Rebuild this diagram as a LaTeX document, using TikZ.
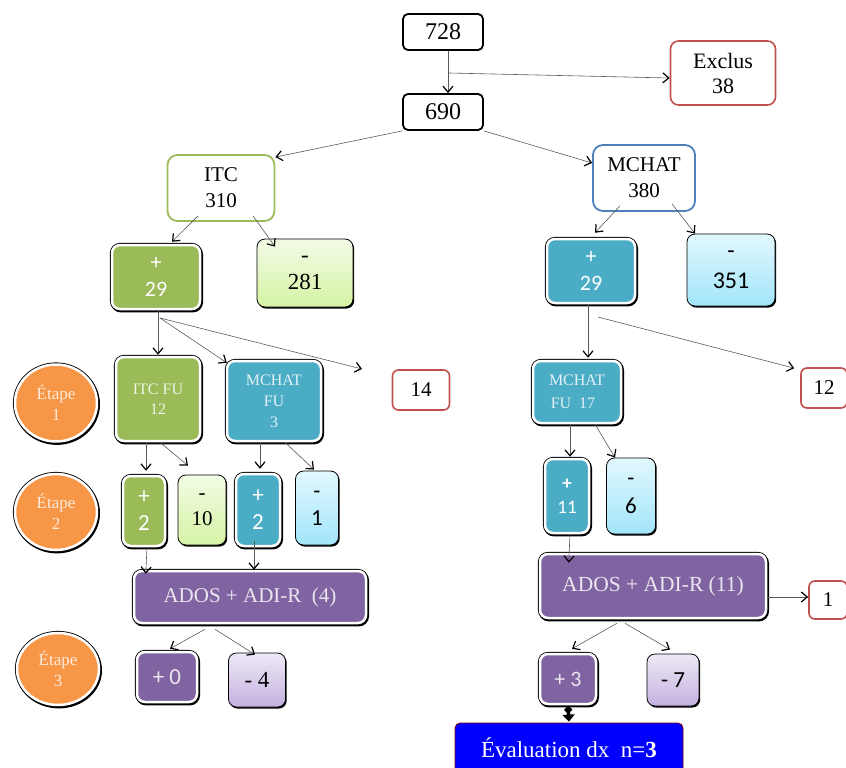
\documentclass[tikz,border=0pt]{standalone}
\usepackage{fontspec}
\setmainfont{Liberation Serif}
\newfontfamily\calib{Carlito}
\usetikzlibrary{arrows.meta,shadows,shapes.geometric,calc}
\definecolor{cgreen}{HTML}{9BBB59}
\definecolor{cteal}{HTML}{4BACC6}
\definecolor{cpurple}{HTML}{8064A2}
\definecolor{corange}{HTML}{F79646}
\definecolor{cred}{HTML}{C0504D}
\definecolor{cblueb}{HTML}{4F81BD}
\definecolor{lgtop}{HTML}{F3FCE6}
\definecolor{lgbot}{HTML}{D5F3A4}
\definecolor{lctop}{HTML}{E2F8FE}
\definecolor{lcbot}{HTML}{A2E5FA}
\definecolor{lptop}{HTML}{EEE8F7}
\definecolor{lpbot}{HTML}{C4B2DF}
\definecolor{tgreen}{HTML}{EEF5E2}
\definecolor{tteal}{HTML}{E2F2F6}
\definecolor{tpurple}{HTML}{EAE6F0}
\definecolor{torange}{HTML}{FDEBDD}
\newcommand{\fsz}[2]{\fontsize{#1}{#2}\selectfont}
\tikzset{
  plainbox/.style={rounded corners=5pt, inner sep=0pt, align=center, draw=black, line width=1.8pt, fill=white},
  redbox/.style={rounded corners=8pt, inner sep=0pt, align=center, draw=cred, line width=1.6pt, fill=white},
  catbox/.style={rounded corners=10pt, inner sep=0pt, align=center, draw=#1, line width=1.8pt, fill=white},
  filledbox/.style={rounded corners=8pt, inner sep=0pt, align=center, fill=#1, draw=white, line width=2.5pt,
     preaction={draw=black, line width=4.2pt},
     preaction={draw=black, line width=4.2pt, transform canvas={xshift=0.9pt, yshift=-1.3pt}}},
  etape/.style={ellipse, inner sep=0pt, align=center, fill=corange, draw=white, line width=2.5pt,
     text=torange, font=\fsz{17}{21},
     preaction={draw=black, line width=4.2pt},
     preaction={draw=black, line width=4.2pt, transform canvas={xshift=0.9pt, yshift=-1.3pt}}},
  lightbox/.style 2 args={rounded corners=8pt, inner sep=0pt, align=center, draw=black, line width=0.8pt,
     top color=#1, bottom color=#2,
     drop shadow={shadow xshift=1.2pt, shadow yshift=-1.6pt, opacity=1, fill=black}},
  arr/.style={draw=black!65, line width=0.6pt, -{Straight Barb[length=6pt,width=10pt,line width=1.2pt,color=black]}},
}
\begin{document}
\begin{tikzpicture}[x=1pt,y=-1pt]
\useasboundingbox (0,0) rectangle (846,768);
% top
\node[plainbox, minimum width=80, minimum height=36, font=\fsz{24}{28}] (n728) at (443,32) {728};
\node[plainbox, minimum width=80, minimum height=36, font=\fsz{24}{28}] (n690) at (443,112) {690};
\node[redbox, minimum width=105, minimum height=64, font=\fsz{22}{25}] (excl) at (723,73) {Exclus\\38};
\node[catbox=cgreen, minimum width=107, minimum height=66, font=\fsz{21}{26}] (itc) at (221,188) {ITC\\310};
\node[catbox=cblueb, minimum width=102, minimum height=66, font=\fsz{21}{26}] (mchat) at (644,178) {MCHAT\\380};
% level 2
\node[filledbox=cgreen, minimum width=88, minimum height=64, text=white, font=\calib\fsz{22}{27}] (itcp) at (156,277) {+\\29};
\node[lightbox={lgtop}{lgbot}, minimum width=96, minimum height=68, font=\fsz{23}{27}] (itcm) at (305,273) {-\\281};
\node[filledbox=cteal, minimum width=88, minimum height=64, text=white, font=\calib\fsz{22}{27}] (mchp) at (591,271) {+\\29};
\node[lightbox={lctop}{lcbot}, minimum width=88, minimum height=72, font=\calib\fsz{24}{30}] (mchm) at (731,270) {-\\351};
% etape 1
\node[etape, minimum width=82, minimum height=77] (et1) at (56,403) {Étape\\1};
\node[filledbox=cgreen, minimum width=84, minimum height=84, text=tgreen, font=\fsz{16}{20}] (itcfu) at (158,399) {ITC FU\\12};
\node[filledbox=cteal, minimum width=94, minimum height=80, text=tteal, font=\fsz{16}{21}] (mchfu) at (274,401) {MCHAT\\FU\\3};
\node[redbox, rounded corners=6pt, minimum width=57, minimum height=40, font=\fsz{21}{25}] (n14) at (421,390) {14};
\node[filledbox=cteal, minimum width=88, minimum height=62, text=tteal, font=\fsz{16}{23}] (mchfu17) at (577,392) {MCHAT\\FU~~17\hspace*{8pt}};
\node[redbox, rounded corners=6pt, minimum width=46, minimum height=40, font=\fsz{21}{25}] (n12) at (824,388) {12};
% etape 2
\node[etape, minimum width=82, minimum height=76] (et2) at (56,512) {Étape\\2};
\node[filledbox=cgreen, minimum width=42, minimum height=70, text=white, font=\calib\fsz{23}{27}] (itc2p) at (144,511) {+\\2};
\node[lightbox={lgtop}{lgbot}, minimum width=48, minimum height=70, font=\fsz{21}{26}] (itc2m) at (202,510) {-\\10};
\node[filledbox=cteal, minimum width=44, minimum height=72, text=white, font=\calib\fsz{23}{27}] (mch2p) at (258,510) {+\\2};
\node[lightbox={lctop}{lcbot}, minimum width=43, minimum height=74, font=\calib\fsz{23}{27}] (mch2m) at (317,508) {-\\1};
\node[filledbox=cpurple, minimum width=232, minimum height=52, text=tpurple, font=\fsz{21}{25}] (ados4) at (250,597) {ADOS + ADI-R~~(4)};
\node[filledbox=cteal, minimum width=44, minimum height=74, text=white, font=\calib\fsz{19}{24}] (mch3p) at (567,496) {\textbf{+}\\11};
\node[lightbox={lctop}{lcbot}, minimum width=49, minimum height=76, font=\calib\fsz{23}{28}] (mch3m) at (631,496) {-\\6};
\node[filledbox=cpurple, minimum width=226, minimum height=64, text=tpurple, font=\fsz{21.5}{25}] (ados11) at (653,586) {ADOS + ADI-R (11)};
\node[redbox, rounded corners=6pt, minimum width=38, minimum height=38, font=\fsz{21}{25}] (n1) at (828,600) {1};
% etape 3
\node[etape, minimum width=82, minimum height=72] (et3) at (58,669) {Étape\\3};
\node[filledbox=cpurple, minimum width=60, minimum height=50, text=tpurple, font=\calib\fsz{23}{27}] (p0) at (167,677) {+ 0};
\node[lightbox={lptop}{lpbot}, minimum width=57, minimum height=54, font=\fsz{23}{27}] (m4) at (257,680) {- 4};
\node[filledbox=cpurple, minimum width=56, minimum height=50, text=tpurple, font=\calib\fsz{22}{26}] (p3) at (568,679) {+ 3};
\node[lightbox={lptop}{lpbot}, minimum width=52, minimum height=52, font=\calib\fsz{23}{27}] (m7) at (673,680) {- 7};
\node[rounded corners=5pt, inner sep=0pt, fill=blue, draw=red!50!black, line width=0.8pt, minimum width=228, minimum height=50, text=white, font=\fsz{23}{27}] (eval) at (569,748) {Évaluation dx~~n=\textbf{3}};
% connectors
\draw[arr] ([xshift=5pt]n728.south) -- ([xshift=5pt]n690.north);
\coordinate (br) at (449,73);
\draw[arr] (br) -- ([yshift=-5pt]excl.west);
\draw[arr] (n690.south west) -- ([yshift=-3pt]itc.north east);
\draw[arr] (n690.south east) -- ([yshift=15pt]mchat.west);
\draw[arr] ([xshift=-23pt,yshift=6pt]itc.south) -- ([xshift=16pt,yshift=2pt]itcp.north);
\draw[arr] ([xshift=32pt,yshift=6pt]itc.south) -- ([xshift=-30pt,yshift=-8pt]itcm.north);
\draw[arr] ([xshift=-24pt,yshift=6pt]mchat.south) -- ([xshift=4pt,yshift=5pt]mchp.north);
\draw[arr] ([xshift=28pt,yshift=8pt]mchat.south) -- ([xshift=-36pt]mchm.north);
\draw[arr] ([xshift=2pt]itcp.south) -- ([yshift=1pt]itcfu.north);
\coordinate (fan) at (160,318);
\coordinate (free14) at (362,369);
\draw[arr] (fan) -- ([xshift=1pt,yshift=-3pt]mchfu.north west);
\draw[arr] (fan) -- (free14);
\draw[arr] ([xshift=-3pt]mchp.south) -- ([xshift=11pt,yshift=2pt]mchfu17.north);
\coordinate (fanr) at (598,317);
\draw[arr] (fanr) -- ([xshift=-6pt,yshift=-1pt]n12.north west);
\draw[arr] ([xshift=-12pt]itcfu.south) -- ([xshift=2pt,yshift=4pt]itc2p.north);
\draw[arr] ([xshift=2pt]itcfu.south) -- ([xshift=-14pt,yshift=9pt]itc2m.north);
\draw[arr] ([xshift=-14pt]mchfu.south) -- ([xshift=2pt,yshift=4pt]mch2p.north);
\draw[arr] ([xshift=11pt]mchfu.south) -- ([xshift=-3pt,yshift=1pt]mch2m.north);
\draw[arr] ([xshift=3pt]itc2p.south) -- ([xshift=13pt,yshift=-4pt]ados4.north west);
\draw[arr] ([xshift=-4pt,yshift=6pt]mch2p.south) -- ([xshift=4pt]ados4.north);
\draw[arr] ([xshift=-45pt,yshift=-5pt]ados4.south) -- ([xshift=3pt,yshift=2pt]p0.north);
\draw[arr] ([xshift=-35pt,yshift=-5pt]ados4.south) -- ([xshift=-2pt,yshift=-2pt]m4.north);
\draw[arr] ([xshift=-7pt]mchfu17.south) -- ([xshift=3pt,yshift=1pt]mch3p.north);
\draw[arr] ([xshift=18pt]mchfu17.south) -- ([xshift=-16pt]mch3m.north);
\draw[arr] ([xshift=3pt]mch3p.south) -- ([xshift=30pt,yshift=-10pt]ados11.north west);
\draw[arr] ([yshift=-11pt]ados11.east) -- ([yshift=3pt]n1.west);
\draw[arr] ([xshift=-36pt,yshift=-4pt]ados11.south) -- ([xshift=4pt,yshift=4pt]p3.north);
\draw[arr] ([xshift=-28pt,yshift=-4pt]ados11.south) -- ([xshift=-3pt,yshift=4pt]m7.north);
\draw[line width=3.5pt, {Circle[length=7pt]}-{Triangle[length=7pt,width=12pt]}] ([yshift=-1pt]p3.south) -- ([yshift=1pt]eval.north);
\end{tikzpicture}
\end{document}
